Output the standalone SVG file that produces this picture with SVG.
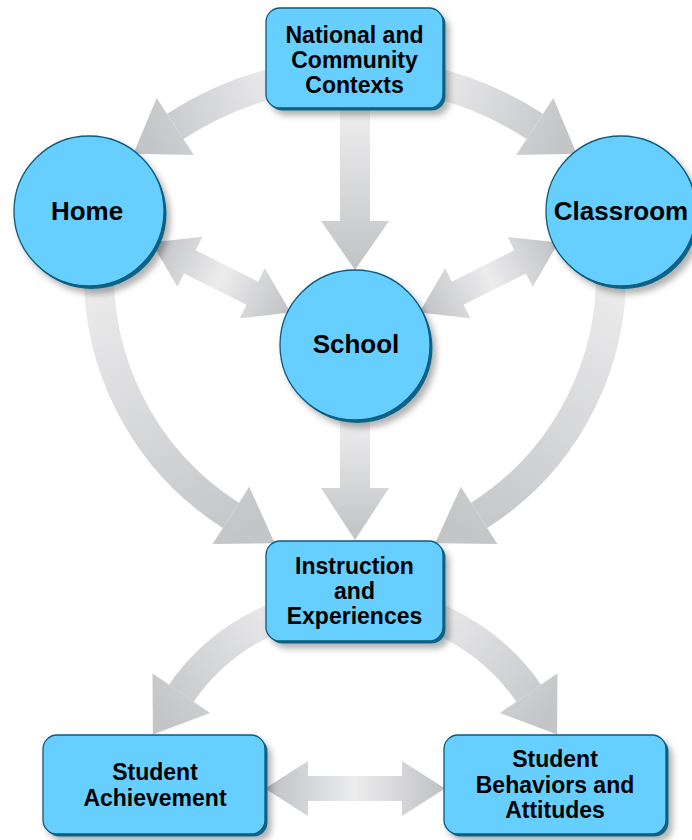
<svg xmlns="http://www.w3.org/2000/svg" width="692" height="840" viewBox="0 0 692 840">
<style>
.n{fill:#66cfff;stroke:#0c5a7a;stroke-width:1.3}
.d{fill:#0b6488}
.t{font-family:"Liberation Sans",Arial,sans-serif;font-weight:bold;fill:#000;text-anchor:middle}
.b{font-size:23px}
.c{font-size:26px}
.s{fill:none;stroke-width:30}
</style>
<defs>
<filter id="ds" x="-20%" y="-20%" width="150%" height="150%">
<feGaussianBlur in="SourceAlpha" stdDeviation="3"/>
<feOffset dx="4" dy="5" result="b"/>
<feFlood flood-color="#000" flood-opacity="0.3"/>
<feComposite in2="b" operator="in"/>
<feMerge><feMergeNode/><feMergeNode in="SourceGraphic"/></feMerge>
</filter>
<linearGradient id="gA" gradientUnits="userSpaceOnUse" x1="290" y1="80" x2="150" y2="140"><stop offset="0" stop-color="#eeeeef"/><stop offset="1" stop-color="#c4c5c7"/></linearGradient>
<linearGradient id="gB" gradientUnits="userSpaceOnUse" x1="420" y1="80" x2="560" y2="140"><stop offset="0" stop-color="#eeeeef"/><stop offset="1" stop-color="#c4c5c7"/></linearGradient>
<linearGradient id="gC" gradientUnits="userSpaceOnUse" x1="0" y1="110" x2="0" y2="260"><stop offset="0" stop-color="#eeeeef"/><stop offset="1" stop-color="#c4c5c7"/></linearGradient>
<linearGradient id="gH" gradientUnits="userSpaceOnUse" x1="0" y1="420" x2="0" y2="530"><stop offset="0" stop-color="#eeeeef"/><stop offset="1" stop-color="#c4c5c7"/></linearGradient>
<linearGradient id="gF" gradientUnits="userSpaceOnUse" x1="100" y1="260" x2="250" y2="530"><stop offset="0" stop-color="#eeeeef"/><stop offset="1" stop-color="#c4c5c7"/></linearGradient>
<linearGradient id="gG" gradientUnits="userSpaceOnUse" x1="610" y1="260" x2="460" y2="530"><stop offset="0" stop-color="#eeeeef"/><stop offset="1" stop-color="#c4c5c7"/></linearGradient>
<linearGradient id="gI" gradientUnits="userSpaceOnUse" x1="300" y1="610" x2="165" y2="720"><stop offset="0" stop-color="#eeeeef"/><stop offset="1" stop-color="#c4c5c7"/></linearGradient>
<linearGradient id="gJ" gradientUnits="userSpaceOnUse" x1="410" y1="610" x2="545" y2="720"><stop offset="0" stop-color="#eeeeef"/><stop offset="1" stop-color="#c4c5c7"/></linearGradient>
<linearGradient id="gD" x1="0" y1="0" x2="1" y2="0"><stop offset="0" stop-color="#bfc0c3"/><stop offset="0.5" stop-color="#ececed"/><stop offset="1" stop-color="#bfc0c3"/></linearGradient>
</defs>

<g id="connectors">
<!-- National -> Home -->
<path class="s" stroke="url(#gA)" d="M297.9,78 A329,329 0 0 0 175.3,126.4"/>
<polygon fill="url(#gA)" points="193.9,154.9 156.7,97.9 133.4,153.7"/>
<!-- National -> Classroom -->
<path class="s" stroke="url(#gB)" d="M412.1,78 A329,329 0 0 1 534.7,126.4"/>
<polygon fill="url(#gB)" points="516.1,154.9 553.3,97.9 576.6,153.7"/>
<!-- National -> School -->
<path fill="url(#gC)" d="M340,100 H370 V221 H389 L355,270 L321,221 H340 Z"/>
<!-- Home <-> School -->
<path fill="url(#gD)" transform="translate(89,211) rotate(26.74)" d="M70,0 L113,-28 L113,-13 L182.8,-13 L182.8,-28 L225.8,0 L182.8,28 L182.8,13 L113,13 L113,28 Z"/>
<!-- School <-> Classroom -->
<path fill="url(#gD)" transform="translate(621,211) rotate(153.26)" d="M70,0 L113,-28 L113,-13 L182.8,-13 L182.8,-28 L225.8,0 L182.8,28 L182.8,13 L113,13 L113,28 Z"/>
<!-- Home -> Instruction -->
<path class="s" stroke="url(#gF)" d="M100.1,250.2 A285,285 0 0 0 230.9,515.4"/>
<polygon fill="url(#gF)" points="212.6,544.1 249.2,486.7 274.8,543.3"/>
<!-- Classroom -> Instruction -->
<path class="s" stroke="url(#gG)" d="M609.9,250.2 A285,285 0 0 1 479.1,515.4"/>
<polygon fill="url(#gG)" points="497.4,544.1 460.8,486.7 435.2,543.3"/>
<!-- School -> Instruction -->
<path fill="url(#gH)" d="M340,415 H370 V488 H389 L355,540 L321,488 H340 Z"/>
<!-- Instruction -> Achievement -->
<path class="s" stroke="url(#gI)" d="M318.4,605.2 A211,211 0 0 0 181.3,693.2"/>
<polygon fill="url(#gI)" points="210.1,713.1 152.5,673.3 152.9,734.4"/>
<!-- Instruction -> Behaviors -->
<path class="s" stroke="url(#gJ)" d="M391.6,605.2 A211,211 0 0 1 528.7,693.2"/>
<polygon fill="url(#gJ)" points="499.9,713.1 557.5,673.3 557.1,734.4"/>
<!-- Achievement <-> Behaviors -->
<path fill="url(#gD)" d="M265,788.5 L308,761 L308,776 L402,776 L402,761 L445,788.5 L402,816 L402,801 L308,801 L308,816 Z"/>
</g>

<g id="national">
<g filter="url(#ds)"><rect class="d" x="268.5" y="10.5" width="177" height="100" rx="14"/><rect class="n" x="266" y="8" width="177" height="100" rx="14"/></g>
<text class="t b" x="354.5" y="43">National and</text>
<text class="t b" x="354.5" y="68">Community</text>
<text class="t b" x="354.5" y="93">Contexts</text>
</g>

<g id="home">
<g filter="url(#ds)"><circle class="d" cx="91.5" cy="214" r="75"/><circle class="n" cx="89" cy="211" r="75"/></g>
<text class="t c" x="87" y="220">Home</text>
</g>

<g id="classroom">
<g filter="url(#ds)"><circle class="d" cx="623.5" cy="214" r="75"/><circle class="n" cx="621" cy="211" r="75"/></g>
<text class="t c" x="621" y="220">Classroom</text>
</g>

<g id="school">
<g filter="url(#ds)"><circle class="d" cx="357.5" cy="348" r="75"/><circle class="n" cx="355" cy="345" r="75"/></g>
<text class="t c" x="356" y="353">School</text>
</g>

<g id="instruction">
<g filter="url(#ds)"><rect class="d" x="268.5" y="543.5" width="177" height="100" rx="14"/><rect class="n" x="266" y="541" width="177" height="100" rx="14"/></g>
<text class="t b" x="354.5" y="574">Instruction</text>
<text class="t b" x="354.5" y="599">and</text>
<text class="t b" x="354.5" y="624">Experiences</text>
</g>

<g id="achievement">
<g filter="url(#ds)"><rect class="d" x="45.5" y="737.5" width="222" height="99" rx="14"/><rect class="n" x="43" y="735" width="222" height="99" rx="14"/></g>
<text class="t b" x="155" y="780">Student</text>
<text class="t b" x="155" y="806">Achievement</text>
</g>

<g id="behaviors">
<g filter="url(#ds)"><rect class="d" x="446.5" y="737.5" width="222" height="99" rx="14"/><rect class="n" x="444" y="735" width="222" height="99" rx="14"/></g>
<text class="t b" x="555" y="767">Student</text>
<text class="t b" x="555" y="793">Behaviors and</text>
<text class="t b" x="555" y="818">Attitudes</text>
</g>
</svg>
